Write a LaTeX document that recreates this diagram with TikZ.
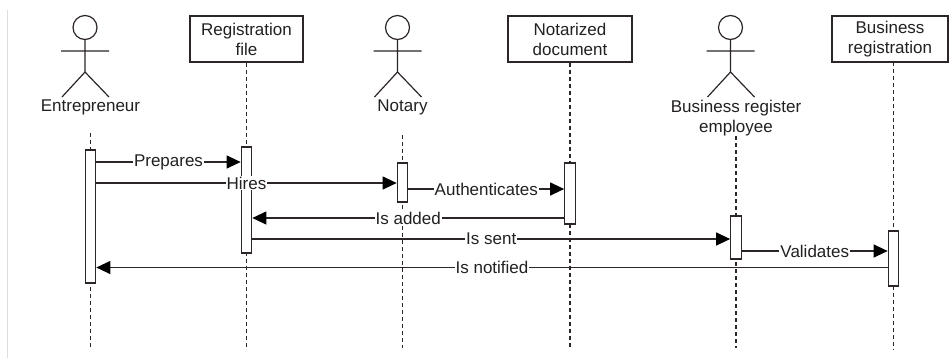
\documentclass[tikz,border=0pt]{standalone}
\usepackage{fontspec}
\setmainfont{Liberation Sans}
\usetikzlibrary{arrows.meta}
\definecolor{lc}{RGB}{45,38,38}
\definecolor{tc}{RGB}{35,32,32}
\definecolor{lgray}{RGB}{222,222,222}
\begin{document}
\begin{tikzpicture}[x=1bp,y=-1bp,
  font=\fontsize{17bp}{20bp}\selectfont,
  every node/.style={text=tc},
  objbox/.style={draw=lc, line width=1.2bp, fill=white, align=center, minimum height=46bp, inner sep=0pt},
  actorlabel/.style={align=center, inner sep=0pt},
  actbar/.style={draw=lc, line width=1.2bp, fill=white, minimum width=10.5bp, inner sep=0pt},
  life/.style={draw=lc, line width=1.2bp, dash pattern=on 4bp off 3bp},
  msg/.style={draw=lc, line width=1.2bp, -{Triangle[length=14bp,width=13bp,color=black]}},
  mlabel/.style={fill=white, inner sep=1bp, midway},
  stick/.style={draw=lc, line width=1.2bp},
  actor/.pic={
    \draw[stick] (0,0) circle[radius=12bp];
    \draw[stick] (0,12) -- (0,44.5) (-24,23.5) -- (24,23.5) (-23,69.5) -- (0,44.5) -- (24,69.5);
  }]
\fill[white] (0,0) rectangle (950,358);
\useasboundingbox (0,0) rectangle (950,358);
\draw[lgray, line width=1bp] (7,10) -- (7,358);

% actors
\pic (entfig) at (85,27.5) {actor};
\pic (notfig) at (397.5,27.5) {actor};
\pic (befig) at (730.5,27.5) {actor};
\node[actorlabel] (entlbl) at (90.5,107) {Entrepreneur};
\node[actorlabel] (notlbl) at (402.5,107) {Notary};
\node[actorlabel] (belbl) at (736,118) {Business register\\employee};

% objects
\node[objbox, minimum width=113bp] (rf) at (246.5,39) {Registration\\file};
\node[objbox, minimum width=124bp] (nd) at (570,39) {Notarized\\document};
\node[objbox, minimum width=116bp] (br) at (890,39) {Business\\registration};

% lifeline ends
\coordinate (etop) at (90.5,133);   \coordinate (ebot) at (90.5,348);
\coordinate (rbot) at (246.5,348);
\coordinate (ntop) at (402.5,135);  \coordinate (nbot) at (402.5,348);
\coordinate (ndbot) at (570,348);
\coordinate (betop) at (736,136);   \coordinate (bebot) at (736,348);
\coordinate (brtop) at (893.5,62);  \coordinate (brbot) at (893.5,350);

\draw[life] (etop) -- (ebot);
\draw[life] (rf.south) -- (rbot);
\draw[life] (ntop) -- (nbot);
\draw[life] (nd.south) -- (ndbot);
\draw[life] (betop) -- (bebot);
\draw[life] (brtop) -- (brbot);

% activation bars
\node[actbar, minimum height=133bp] (ebar) at (90.5,216.5) {};
\node[actbar, minimum height=106bp] (rbar) at (246.5,200) {};
\node[actbar, minimum height=39bp] (nbar) at (402.5,182.5) {};
\node[actbar, minimum height=61bp] (ndbar) at (570,193.5) {};
\node[actbar, minimum height=43bp] (bebar) at (736,237.5) {};
\node[actbar, minimum height=55bp] (brbar) at (893.5,258.5) {};

% message levels
\coordinate (y1) at (0,162);
\coordinate (y2) at (0,183);
\coordinate (y3) at (0,189);
\coordinate (y4) at (0,218);
\coordinate (y5) at (0,239);
\coordinate (y6) at (0,251);
\coordinate (y7) at (0,267.5);

\draw[msg] (ebar.east |- y1) -- node[mlabel]{Prepares} (rbar.west |- y1);
\draw[msg] (ebar.east |- y2) -- node[mlabel]{Hires} (nbar.west |- y2);
\draw[msg] (nbar.east |- y3) -- node[mlabel]{Authenticates} (ndbar.west |- y3);
\draw[msg] (ndbar.west |- y4) -- node[mlabel]{Is added} (rbar.east |- y4);
\draw[msg] (rbar.east |- y5) -- node[mlabel]{Is sent} (bebar.west |- y5);
\draw[msg] (bebar.east |- y6) -- node[mlabel]{Validates} (brbar.west |- y6);
\draw[msg] (brbar.west |- y7) -- node[mlabel]{Is notified} (ebar.east |- y7);
\end{tikzpicture}
\end{document}
